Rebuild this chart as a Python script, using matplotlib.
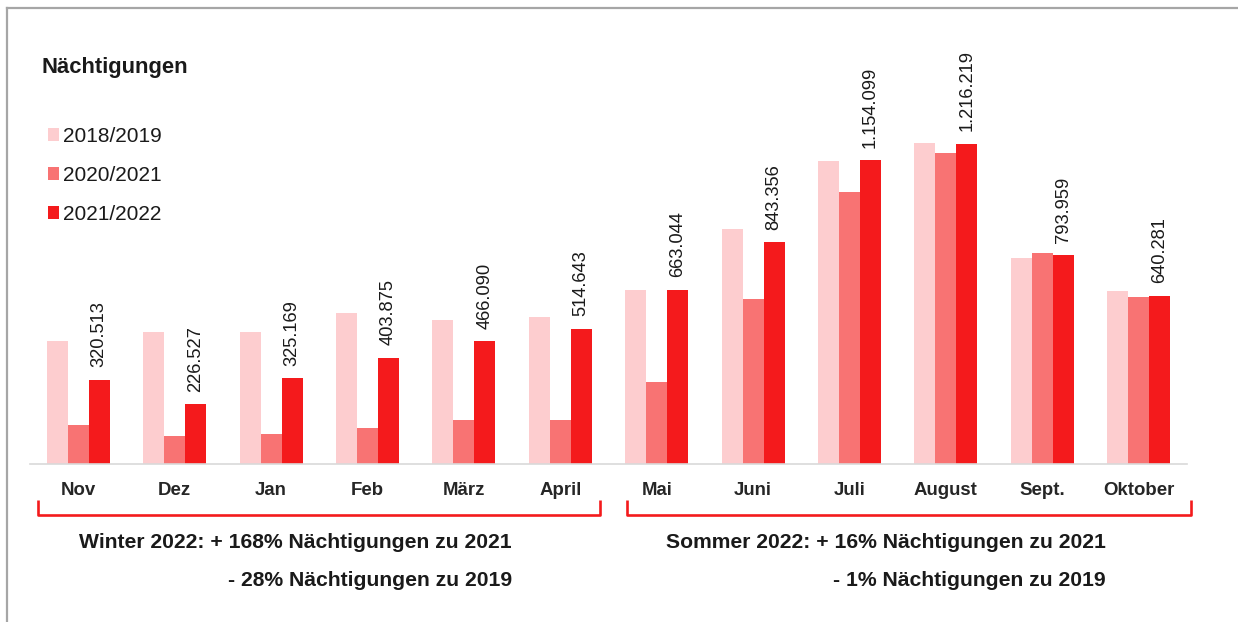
import matplotlib
matplotlib.use("Agg")
import matplotlib.pyplot as plt
import numpy as np
from matplotlib.lines import Line2D

# ---- data ----
months = ["Nov", "Dez", "Jan", "Feb", "März", "April",
          "Mai", "Juni", "Juli", "August", "Sept.", "Oktober"]
series_names = ["2018/2019", "2020/2021", "2021/2022"]
v_2018_2019 = [468000, 500000, 500000, 572000, 548000, 560000,
               663000, 893000, 1153000, 1219000, 784000, 657000]
v_2020_2021 = [150000, 108000, 114000, 137000, 168000, 168000,
               312000, 626000, 1032000, 1183000, 802000, 633000]
v_2021_2022 = [320513, 226527, 325169, 403875, 466090, 514643,
               663044, 843356, 1154099, 1216219, 793959, 640281]
title = "Nächtigungen"
winter_lines = ["Winter 2022: + 168% Nächtigungen zu 2021", "- 28% Nächtigungen zu 2019"]
summer_lines = ["Sommer 2022: + 16% Nächtigungen zu 2021", "- 1% Nächtigungen zu 2019"]

colors = ["#FDCDCF", "#F87373", "#F41A1C"]

plt.rcParams['font.family'] = ['Liberation Sans', 'DejaVu Sans']

W, H = 1238, 622
fig = plt.figure(figsize=(W / 100, H / 100), dpi=100)
fig.patch.set_facecolor("white")

def fx(px):
    return px / W

def fy(py):
    return 1 - py / H

ax = fig.add_axes([fx(30), fy(464), fx(1187) - fx(30), fy(40) - fy(464)])
x = np.arange(len(months))
bw = 0.218
for i, (vals, name) in enumerate(zip([v_2018_2019, v_2020_2021, v_2021_2022], series_names)):
    ax.bar(x + (i - 1) * bw, vals, width=bw, color=colors[i], label=name, zorder=2)

for xi, v in zip(x, v_2021_2022):
    ax.annotate(f"{v:,}".replace(",", "."), (xi + bw, v), xytext=(0, 9),
                textcoords="offset points", rotation=90, ha="center", va="bottom",
                fontsize=13.2, color="#1a1a1a")

ax.set_xlim(-0.5, len(months) - 0.5)
ax.set_ylim(0, 1611200)
for s in ["top", "right", "left"]:
    ax.spines[s].set_visible(False)
ax.spines["bottom"].set_color("#d9d9d9")
ax.spines["bottom"].set_linewidth(1.2)
ax.set_yticks([])
ax.set_xticks(x)
ax.set_xticklabels(months, fontsize=13.4, fontweight="bold", color="#262626")
ax.tick_params(axis="x", length=0, pad=13)

leg = ax.legend(loc="upper left", bbox_to_anchor=(fx(48), fy(127)),
                bbox_transform=fig.transFigure, frameon=False, fontsize=15,
                handlelength=0.53, handleheight=0.53, handletextpad=0.2,
                labelspacing=0.96, borderpad=0, borderaxespad=0)
for t in leg.get_texts():
    t.set_color("#1a1a1a")

fig.text(fx(41.5), fy(73), title, fontsize=15.8, fontweight="bold",
         color="#1a1a1a", va="baseline", ha="left")

for lines, xr in [(winter_lines, 512), (summer_lines, 1106)]:
    for k, line in enumerate(lines):
        fig.text(fx(xr), fy(548.5 + 37 * k), line, fontsize=15.2, fontweight="bold",
                 color="#1a1a1a", va="baseline", ha="right")

# brackets
for x0, x1 in [(38.3, 600), (626.7, 1190.7)]:
    fig.add_artist(Line2D([fx(x0), fx(x0), fx(x1), fx(x1)],
                          [fy(500), fy(514.5), fy(514.5), fy(500)],
                          transform=fig.transFigure, color="#F41A1C", lw=1.9,
                          solid_joinstyle="round", solid_capstyle="butt"))

# outer frame (top and left)
fig.add_artist(Line2D([fx(7), 1], [fy(8), fy(8)], transform=fig.transFigure,
                      color="#a6a6a6", lw=1.6))
fig.add_artist(Line2D([fx(7), fx(7)], [fy(8), 0], transform=fig.transFigure,
                      color="#a6a6a6", lw=1.6))

fig.savefig("out.png", dpi=100, facecolor="white")
